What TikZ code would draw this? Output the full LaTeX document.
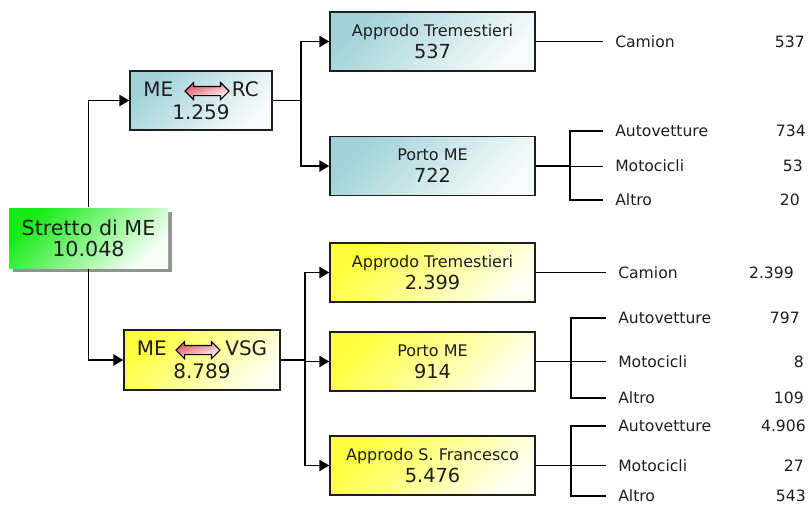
\documentclass[tikz,border=0pt]{standalone}
\usepackage{fontspec}
\setmainfont{DejaVu Sans}
\usepackage{tikz}
\usetikzlibrary{arrows.meta,shapes.arrows,shadows}
\definecolor{tealL}{RGB}{160,210,216}
\definecolor{yelL}{RGB}{255,255,60}
\definecolor{grnL}{RGB}{20,235,20}
\definecolor{arrR}{RGB}{225,80,100}
\definecolor{ink}{RGB}{30,30,30}
\newcommand{\bx}[2]{#1\\{\fontsize{14.5}{16.5}\selectfont #2}}

\begin{document}
\begin{tikzpicture}[x=0.75pt, y=-0.75pt, >={Triangle[length=7.5pt,width=8.5pt]},
  box/.style={rectangle, draw=ink, line width=1.1pt, align=center, inner sep=0pt, minimum width=153.75pt, minimum height=44.25pt, text=ink, font=\fontsize{12}{16.5}\selectfont},
  tl/.style={box, top color=tealL, bottom color=white!92!tealL, shading angle=45},
  yl/.style={box, top color=yelL, bottom color=yellow!6, shading angle=45},
  dbl/.style={double arrow, draw=black, line width=0.8pt, top color=arrR, bottom color=white, shading angle=20, minimum height=33pt, text height=3pt, text depth=3pt, double arrow head extend=3pt, inner sep=0pt},
  lab/.style={anchor=west, inner xsep=9pt, inner ysep=1pt, font=\fontsize{11.7}{14}\selectfont, text=ink},
  num/.style={anchor=east, inner sep=0pt, font=\fontsize{11.7}{14}\selectfont, text=ink},
  conn/.style={line width=1.2pt},
  thn/.style={line width=0.6pt}]
  \useasboundingbox (0,0) rectangle (809,504);
  % root and first level
  \node[box, draw=none, top color=grnL, bottom color=green!3, shading angle=45, minimum width=119.25pt, minimum height=45pt,
    drop shadow={shadow xshift=3pt, shadow yshift=-3pt, fill=gray!85, opacity=1}, font=\fontsize{15.5}{15.75}\selectfont] (root) at (88.5,238) {Stretto di ME\\10.048};
  \node[tl, minimum width=106.5pt, font=\fontsize{15}{17}\selectfont] (merc) at (201,100.5) {ME\hspace{44pt}RC\\1.259};
  \node[dbl] (arcA) at (207,91) {};
  \node[yl, minimum width=117pt, minimum height=45pt, font=\fontsize{15}{17}\selectfont] (mevsg) at (202,360) {ME\hspace{44pt}VSG\\8.789};
  \node[dbl] (arcB) at (198,350) {};
  \draw[conn,->] (root.north) |- (merc.west);
  \draw[conn,->] (root.south) |- (mevsg.west);

  % second level
  \node[tl] (atA) at (432.5,41.5) {\bx{Approdo Tremestieri}{537}};
  \node[tl] (pmA) at (432.5,166) {\bx{Porto ME}{722}};
  \node[yl] (atB) at (432.5,272.5) {\bx{Approdo Tremestieri}{2.399}};
  \node[yl] (pmB) at (432.5,361.5) {\bx{Porto ME}{914}};
  \node[yl] (sfB) at (432.5,465.5) {\bx{Approdo S. Francesco}{5.476}};
  \coordinate (jA) at (301,100.5);
  \coordinate (jB) at (305,360);
  \draw[conn] (merc.east) -- (jA);
  \draw[conn,->] (jA) |- (atA.west);
  \draw[conn,->] (jA) |- (pmA.west);
  \draw[conn] (mevsg.east) -- (jB);
  \draw[conn,->] (jB) |- (atB.west);
  \draw[conn,->] (jB) |- (pmB.west);
  \draw[conn,->] (jB) |- (sfB.west);

  % vehicle types
  \node[lab] (camA) at (603,41.5) {Camion};    \node[num] (camAn) at (805,41.5) {537};
  \node[lab] (autA) at (603,131) {Autovetture}; \node[num] (autAn) at (806,131) {734};
  \node[lab] (motA) at (603,166) {Motocicli};  \node[num] (motAn) at (803,166) {53};
  \node[lab] (altA) at (603,200) {Altro};      \node[num] (altAn) at (800,200) {20};
  \node[lab] (camB) at (606,272.5) {Camion};   \node[num] (camBn) at (794,272.5) {2.399};
  \node[lab] (autB) at (606,318) {Autovetture}; \node[num] (autBn) at (800,318) {797};
  \node[lab] (motB) at (606,361.5) {Motocicli}; \node[num] (motBn) at (804,361.5) {8};
  \node[lab] (altB) at (606,398) {Altro};      \node[num] (altBn) at (804,398) {109};
  \node[lab] (autC) at (606,426) {Autovetture}; \node[num] (autCn) at (806,426) {4.906};
  \node[lab] (motC) at (606,465.5) {Motocicli}; \node[num] (motCn) at (804,465.5) {27};
  \node[lab] (altC) at (606,496) {Altro};      \node[num] (altCn) at (806,496) {543};

  \coordinate (bA) at (570,166);
  \coordinate (bB) at (571,361.5);
  \coordinate (bC) at (571,465.5);
  \draw[thn] (atA.east) -- (camA.west);
  \draw[thn] (atB.east) -- (camB.west);
  \draw[conn] (pmA.east) -- (bA);
  \draw[thn] (bA) -- (motA.west);
  \draw[conn] (autA.west) -- (autA.west -| bA) -- (altA.west -| bA) -- (altA.west);
  \draw[conn] (pmB.east) -- (bB) -- (motB.west);
  \draw[conn] (autB.west) -- (autB.west -| bB) -- (altB.west -| bB) -- (altB.west);
  \draw[conn] (sfB.east) -- (bC) -- (motC.west);
  \draw[conn] (autC.west) -- (autC.west -| bC) -- (altC.west -| bC) -- (altC.west);
\end{tikzpicture}
\end{document}
